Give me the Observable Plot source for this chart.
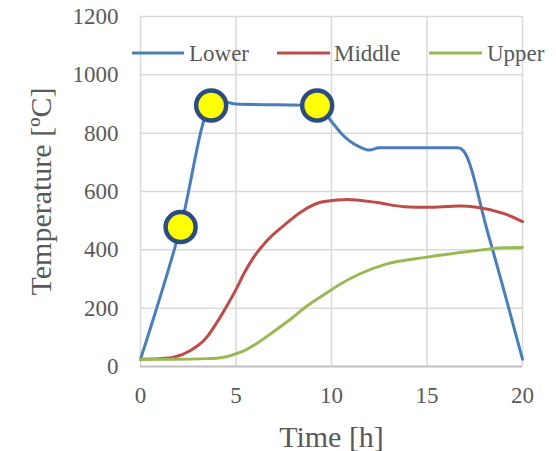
<!DOCTYPE html>
<html>
<head>
<meta charset="utf-8">
<script src="https://cdn.jsdelivr.net/npm/d3@7"></script>
<script src="https://cdn.jsdelivr.net/npm/@observablehq/plot@0.6"></script>
<style>
  html, body { margin: 0; padding: 0; background: #fff; }
  #chart { position: relative; width: 556px; height: 451px; }
  #chart svg, #chart svg g, #chart svg text { font-family: "Liberation Serif", serif !important; font-variant: normal !important; }
</style>
</head>
<body>
<div id="chart"></div>
<script>
// Series names and colours
const seriesNames = ["Lower", "Middle", "Upper"];
const seriesColors = ["#4a7ebb", "#be4b48", "#98b954"];

// Lower (time h, temperature °C)
const lowerTime = [0, 2.1, 3.7, 4.4, 5, 9.25, 10, 10.5, 11.5, 12, 12.5, 16.6, 16.9, 18.2, 20];
const lowerTemp = [25, 478, 895, 907, 900, 895, 840, 800, 752, 742, 750, 750, 740, 455, 25];

// Middle
const middleTime = [0, 1, 1.74, 2.62, 3.4, 4.01, 4.53, 4.97, 5.41, 5.93, 6.63, 7.5, 8.38, 9.42, 10.3, 10.8, 12.4, 13.8, 15, 16.7, 17.6, 19, 20];
const middleTemp = [25, 27, 32, 55, 95, 152, 209, 260, 318, 375, 432, 483, 529, 563, 571, 573, 562, 548, 546, 550, 546, 525, 497];

// Upper
const upperTime = [0, 1.74, 3.49, 4.36, 5.24, 6.11, 6.98, 7.85, 8.73, 9.6, 10.47, 11.5, 12.9, 15, 17.3, 19, 20];
const upperTemp = [25, 25, 27, 32, 49, 80, 120, 162, 208, 246, 283, 318, 352, 375, 395, 407, 408];

// Highlighted points on Lower
const markerTime = [2.1, 3.7, 9.25];
const markerTemp = [478, 895, 895];

// Axis ticks
const xTicks = [0, 5, 10, 15, 20];
const yTicks = [0, 200, 400, 600, 800, 1000, 1200];

const toRows = (name, t, v) => t.map((d, i) => ({series: name, time: d, temp: v[i]}));
const lines = [
  toRows("Lower", lowerTime, lowerTemp),
  toRows("Middle", middleTime, middleTemp),
  toRows("Upper", upperTime, upperTemp)
];
const markers = markerTime.map((d, i) => ({time: d, temp: markerTemp[i]}));

const font = "Liberation Serif";
const gray = "#595959";

const plot = Plot.plot({
  width: 556,
  height: 451,
  marginLeft: 140,
  marginRight: 34,
  marginTop: 16,
  marginBottom: 85,
  style: {fontFamily: font, fontSize: "23px", color: gray, background: "#fff"},
  x: {domain: [0, 20], ticks: xTicks, label: null},
  y: {domain: [0, 1200], ticks: yTicks, label: null},
  marks: [
    Plot.ruleX(xTicks, {stroke: "#d9d9d9", strokeWidth: 1.5}),
    Plot.ruleY(yTicks.slice(1), {stroke: "#d9d9d9", strokeWidth: 1.5}),
    Plot.ruleY([0], {stroke: "#bfbfbf", strokeWidth: 2}),
    Plot.axisX({ticks: xTicks, tickSize: 0, tickPadding: 20, fontSize: 23, fill: gray, label: null, tickFormat: d3.format("d")}),
    Plot.axisY({ticks: yTicks, tickSize: 0, tickPadding: 22, fontSize: 23, fill: gray, label: null, tickFormat: d3.format("d")}),
    ...lines.map((rows, i) => Plot.line(rows, {
      x: "time", y: "temp", stroke: seriesColors[i], strokeWidth: 3, curve: "monotone-x"
    })),
    Plot.dot(markers, {x: "time", y: "temp", r: 15, fill: "#ffff00", stroke: "#2c4d7f", strokeWidth: 4.5}),
    Plot.text(["Temperature [ºC]"], {frameAnchor: "left", dx: -90, rotate: -90, textAnchor: "middle", lineAnchor: "bottom", fontSize: 30, fill: gray}),
    Plot.text(["Time [h]"], {frameAnchor: "bottom", dy: 80, textAnchor: "middle", lineAnchor: "bottom", fontSize: 30, fill: gray})
  ]
});
document.getElementById("chart").appendChild(plot);

// Legend drawn over the plot area
const svg = d3.select(plot);
const legendY = 53;
const legendItems = [
  {x0: 132, x1: 184, tx: 189},
  {x0: 277, x1: 330, tx: 334},
  {x0: 429, x1: 482, tx: 487}
];
const lg = svg.append("g").attr("text-anchor", "start");
seriesNames.forEach((name, i) => {
  const it = legendItems[i];
  lg.append("line").attr("x1", it.x0).attr("x2", it.x1).attr("y1", legendY).attr("y2", legendY)
    .attr("stroke", seriesColors[i]).attr("stroke-width", 3);
  lg.append("text").attr("x", it.tx).attr("y", legendY + 8).text(name)
    .attr("text-anchor", "start").style("text-anchor", "start")
    .attr("fill", gray).style("font-size", "23px");
});
svg.selectAll("text").style("font-family", "'Liberation Serif', serif");
</script>
</body>
</html>
